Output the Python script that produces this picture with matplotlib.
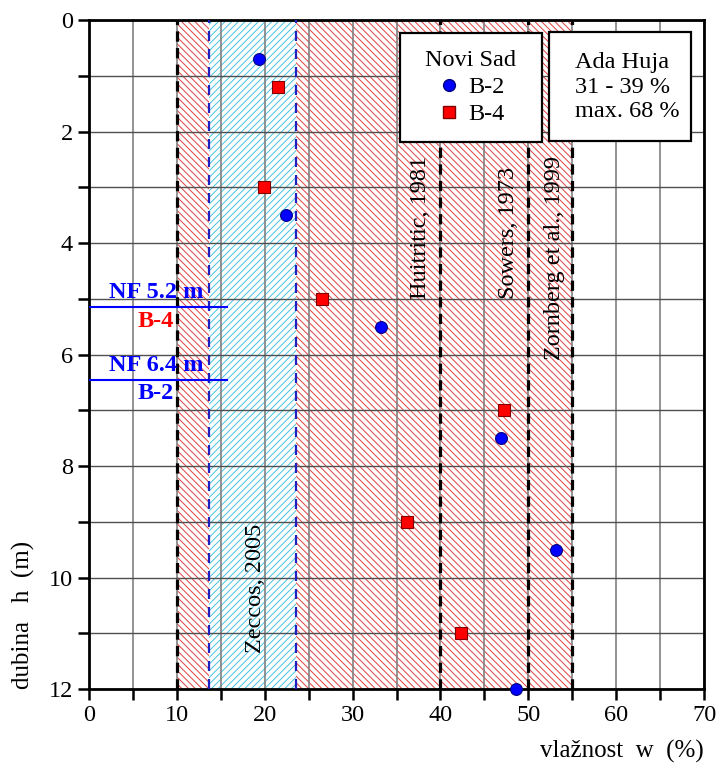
import numpy as np
import matplotlib
matplotlib.use("Agg")
import matplotlib.pyplot as plt
from matplotlib.patches import Rectangle
from matplotlib.lines import Line2D

plt.rcParams['font.family'] = ['Liberation Serif', 'DejaVu Serif']
plt.rcParams['hatch.linewidth'] = 0.7

# moisture content w (%) vs depth h (m)
b2_w = [19.3, 22.4, 33.2, 46.9, 53.2, 48.6]
b2_h = [0.7, 3.5, 5.5, 7.5, 9.5, 12.0]
b4_w = [21.5, 19.9, 26.5, 47.2, 36.2, 42.3]
b4_h = [1.2, 3.0, 5.0, 7.0, 9.0, 11.0]

# literature ranges
red_range = (10, 55)
cyan_range = (13.65, 23.6)
black_limits = [10, 40, 50, 55]
blue_limits = [13.65, 23.6]

# ground water levels
nf_levels = [5.15, 6.45]
nf_labels = ['NF 5.2 m', 'NF 6.4 m']
nf_boreholes = ['B-4', 'B-2']
nf_colors = ['red', 'blue']

# reference labels (text, w, h_bottom)
ref_labels = [('Huitritic, 1981', 37.7, 5.0),
              ('Sowers, 1973', 47.7, 5.0),
              ('Zornberg et al., 1999', 53.0, 6.1),
              ('Zeccos, 2005', 18.9, 11.35)]

FS = 17.5

fig = plt.figure(figsize=(7.16, 7.75), dpi=100)
ax = fig.add_axes([0.1243, 0.111, 0.859, 0.863])

# hatched ranges
ax.axvspan(*red_range, facecolor='none', edgecolor='#e04040', hatch='\\\\\\\\\\',
           linewidth=0, zorder=0.6)
ax.axvspan(*cyan_range, facecolor='white', edgecolor='#45c3e0', hatch='/////',
           linewidth=0, zorder=0.7)

for x in black_limits:
    ax.axvline(x, color='black', lw=2.3, ls=(0, (3.2, 2.0)), zorder=3)
for x in blue_limits:
    ax.axvline(x, color='#2020c0', lw=1.6, ls=(0, (4.5, 3.6)), zorder=3)

# data
ax.plot(b2_w, b2_h, 'o', color='blue', mec='#000080', mew=0.8, ms=8.5,
        zorder=6, clip_on=False, label='B-2')
ax.plot(b4_w, b4_h, 's', color='red', mec='#800000', mew=0.8, ms=8,
        zorder=6, clip_on=False, label='B-4')

# water levels
for lvl, lab, bh, col in zip(nf_levels, nf_labels, nf_boreholes, nf_colors):
    ax.plot([0, 15.7], [lvl, lvl], color='blue', lw=1.5, zorder=5)
    ax.text(13.0, lvl - 0.26, lab, color='blue', fontsize=FS, fontweight='bold',
            ha='right', va='center', zorder=7)
    ax.text(9.7, lvl + 0.25, bh, color=col, fontsize=FS, fontweight='bold',
            ha='right', va='center', zorder=7)

for txt, x, y in ref_labels:
    ax.text(x, y, txt, rotation=90, ha='center', va='bottom', fontsize=FS, zorder=7)

# axes
ax.set_xlim(0, 70)
ax.set_ylim(12, 0)
ax.set_xticks(np.arange(0, 71, 10))
ax.set_xticks(np.arange(5, 70, 10), minor=True)
ax.set_yticks(np.arange(0, 13, 2))
ax.set_yticks(np.arange(1, 12, 2), minor=True)
ax.tick_params(which='both', direction='out', length=8, width=1.8, labelsize=FS)
ax.grid(axis='x', which='both', color='#808080', lw=1.2)
ax.grid(axis='y', which='both', color='#505050', lw=1.0)
ax.set_axisbelow('line')
for sp in ax.spines.values():
    sp.set_linewidth(2)

ax.set_xlabel('vlažnost  w  (%)', fontsize=FS + 0.5, loc='right', labelpad=10)
ax.set_ylabel('dubina   h  (m)', fontsize=FS + 0.5, loc='bottom', labelpad=10)

# Novi Sad legend box
ax.add_patch(Rectangle((0.506, 0.818), 0.231, 0.163, transform=ax.transAxes,
                       facecolor='white', edgecolor='black', lw=1.6, zorder=8))
handles = [Line2D([], [], marker='o', ls='none', color='blue', mec='#000080', ms=8.5),
           Line2D([], [], marker='s', ls='none', color='red', mec='#800000', ms=8)]
leg = ax.legend(handles, ['B-2', 'B-4'], title='Novi Sad', frameon=False,
                loc='center', bbox_to_anchor=(0.621, 0.899), fontsize=FS,
                title_fontsize=FS, handletextpad=0.3, labelspacing=0.2,
                handlelength=1.0, borderpad=0.2)
leg.set_zorder(9)

# Ada Huja box
ax.add_patch(Rectangle((0.748, 0.819), 0.231, 0.163, transform=ax.transAxes,
                       facecolor='white', edgecolor='black', lw=1.6, zorder=8))
ax.text(0.790, 0.900, 'Ada Huja\n31 - 39 %\nmax. 68 %', transform=ax.transAxes,
        fontsize=FS, ha='left', va='center', linespacing=1.2, zorder=9)

fig.savefig('out.png', dpi=100)
